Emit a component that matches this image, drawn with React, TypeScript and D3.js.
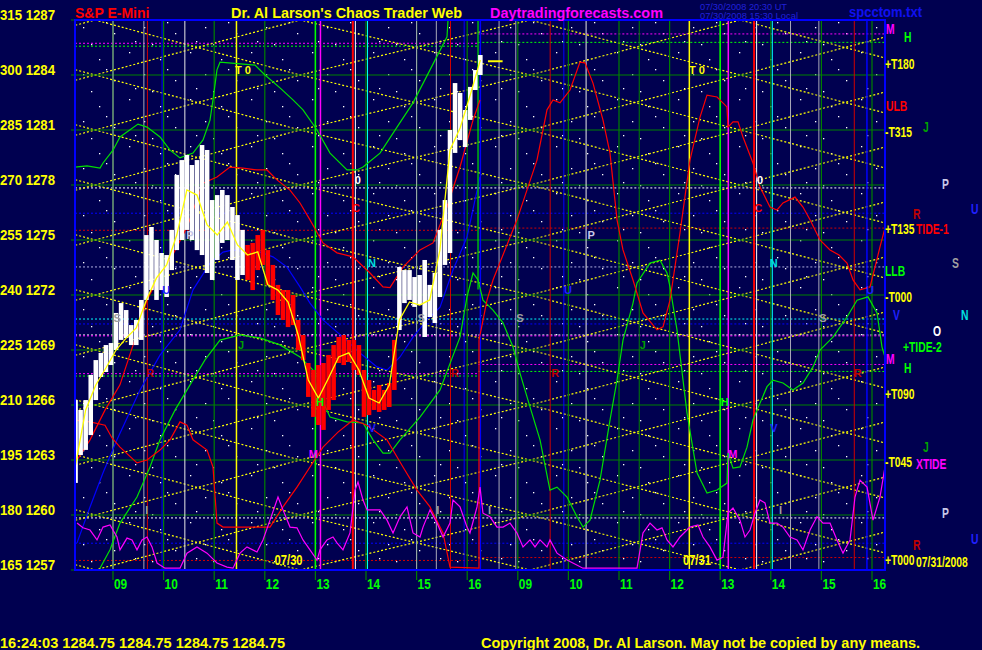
import React from "react";
import * as d3 from "d3";

// ---- axis data ----
const priceTicks = [1257, 1260, 1263, 1266, 1269, 1272, 1275, 1278, 1281, 1284, 1287];
const cycleTicks = [165, 180, 195, 210, 225, 240, 255, 270, 285, 300, 315];
const hourLabels = ["09", "10", "11", "12", "13", "14", "15", "16", "09", "10", "11", "12", "13", "14", "15", "16"];
const firstHour = 9; // chart time: day 1 clock hour, day 2 = clock hour + 8
const dayBreak = 16.22;

// ---- price bars (6 min) ----
const barStart = 8.26;
const barStep = 0.1;
const barHigh = [
  1266.27, 1265.73, 1266.27, 1267.64, 1268.45, 1268.84, 1269.27, 1269.38, 1271.02, 1271.56,
  1271.18, 1270.36, 1270.64, 1271.73, 1275.27, 1275.71, 1275.0, 1274.29, 1274.18, 1275.55,
  1278.55, 1279.36, 1279.64, 1279.09, 1279.36, 1280.18, 1279.91, 1277.18, 1277.45, 1277.73,
  1277.45, 1276.8, 1276.36, 1275.55, 1274.73, 1274.84, 1275.27, 1275.55, 1274.45, 1273.64,
  1272.55, 1272.27, 1272.27, 1272.0, 1270.64, 1269.82, 1268.29, 1267.91, 1268.18, 1268.29,
  1268.73, 1269.27, 1269.71, 1269.82, 1269.55, 1269.55, 1269.27, 1267.91, 1267.36, 1266.82,
  1267.09, 1266.82, 1267.2, 1269.55, 1273.53, 1273.36, 1273.36, 1272.98, 1273.09, 1273.91,
  1272.55, 1273.2, 1275.55, 1277.18, 1281.0, 1283.56, 1283.02, 1282.09, 1283.35, 1284.27,
  1285.09,
];
const barLow = [
  1261.75, 1263.27, 1263.55, 1264.36, 1266.27, 1267.53, 1267.8, 1268.18, 1269.0, 1269.55,
  1269.65, 1269.27, 1269.27, 1269.55, 1271.73, 1272.27, 1271.73, 1272.27, 1271.89, 1273.36,
  1274.45, 1275.0, 1275.55, 1275.0, 1274.45, 1274.18, 1273.2, 1272.82, 1273.91, 1274.84,
  1275.0, 1273.91, 1272.82, 1273.09, 1272.82, 1272.27, 1273.36, 1273.64, 1272.55, 1271.73,
  1270.91, 1270.64, 1270.25, 1270.36, 1269.0, 1268.45, 1266.44, 1265.35, 1264.91, 1264.64,
  1265.73, 1266.27, 1268.29, 1268.18, 1268.35, 1267.91, 1267.64, 1265.35, 1265.45, 1265.73,
  1265.62, 1265.73, 1265.89, 1266.82, 1270.09, 1271.56, 1271.73, 1271.35, 1271.45, 1269.71,
  1270.8, 1270.47, 1271.89, 1273.64, 1274.29, 1279.75, 1280.45, 1280.07, 1281.55, 1283.18,
  1284.0,
];
const redZone = [11.65, 14.6];
const lastPrice = 1284.75;

// ---- moving average (12 min) ----
const maStart = 8.26;
const maStep = 0.2;
const maValues = [
  1262.73, 1265.73, 1267.09, 1268.02, 1269.0, 1269.65, 1270.2, 1271.73, 1272.93, 1273.64,
  1275.27, 1277.73, 1277.45, 1275.82, 1275.27, 1275.98, 1274.73, 1274.18, 1274.35, 1272.55,
  1272.27, 1271.62, 1269.82, 1267.36, 1266.38, 1267.47, 1268.62, 1268.84, 1267.91, 1266.38,
  1266.11, 1267.09, 1270.64, 1271.62, 1271.45, 1271.73, 1274.45, 1279.91, 1281.11, 1282.91,
  1284.82,
];

// ---- cycle curves [chart time, cycle scale] ----
const redForecast: [number, number][] = [
  [8.289, 195.0], [8.546, 200.5], [8.842, 208.6], [9.138, 215.5], [9.474, 229.6], [9.672, 238.6],
  [9.929, 245.5], [10.127, 249.5], [10.462, 258.5], [10.779, 270.5], [11.055, 272.2], [11.312, 274.9],
  [11.569, 274.6], [11.846, 274.1], [12.043, 274.1], [12.241, 271.4], [12.498, 268.6], [12.696, 265.1],
  [12.893, 260.5], [13.15, 254.2], [13.427, 251.5], [13.743, 250.4], [14.079, 246.0], [14.336, 242.2],
  [14.474, 242.0], [14.731, 247.6], [15.067, 252.3], [15.324, 254.2], [15.601, 264.0], [15.858, 274.9],
  [16.115, 287.7], [16.253, 293.2],
];
const redCycle: [number, number][] = [
  [8.249, 205.9], [8.546, 205.4], [8.842, 204.5], [8.981, 201.0], [9.138, 198.5], [9.474, 194.2],
  [9.672, 195.0], [9.929, 197.7], [10.127, 200.5], [10.324, 205.4], [10.462, 204.5], [10.581, 200.5],
  [10.858, 197.7], [10.976, 193.1], [11.055, 177.8], [11.174, 176.7], [12.103, 176.7], [12.36, 182.2],
  [12.636, 187.6], [12.893, 193.1], [13.15, 198.5], [13.447, 202.6], [13.743, 205.9], [14.02, 204.5],
  [14.415, 200.5], [14.731, 193.1], [15.008, 186.8], [15.265, 182.2], [15.522, 175.1], [15.66, 165.8],
  [16.233, 165.5], [16.233, 227.7], [16.392, 238.6], [16.51, 244.1], [16.984, 260.5], [17.379, 276.8],
  [17.577, 290.5], [17.696, 293.2], [17.834, 292.4], [18.032, 295.9], [18.229, 303.5], [18.328, 303.3],
  [18.486, 297.8], [18.684, 287.7], [18.822, 278.7], [18.961, 260.5], [19.079, 252.3], [19.277, 244.1],
  [19.474, 235.1], [19.751, 230.5], [19.87, 231.3], [20.008, 238.6], [20.067, 244.1], [20.205, 256.9],
  [20.403, 276.8], [20.601, 288.5], [20.739, 294.5], [20.937, 294.0], [21.134, 291.3], [21.154, 285.8],
  [21.253, 287.2], [21.352, 287.2], [21.45, 283.1], [21.648, 276.0], [21.786, 269.5], [21.984, 264.0],
  [22.123, 263.2], [22.241, 265.1], [22.478, 266.7], [22.636, 264.0], [22.775, 260.5], [22.972, 255.0],
  [23.17, 252.3], [23.348, 250.9], [23.506, 248.7], [23.625, 244.1], [23.763, 241.4], [23.961, 242.2],
  [24.158, 253.1], [24.257, 258.3],
];
const greenUpper: [number, number][] = [
  [8.249, 274.9], [8.486, 275.2], [8.743, 274.6], [8.803, 276.0], [9.0, 279.5], [9.138, 283.1],
  [9.494, 286.6], [9.672, 285.8], [9.929, 283.1], [10.127, 279.5], [10.324, 277.4], [10.581, 278.7],
  [10.779, 282.3], [10.917, 287.7], [10.976, 293.2], [11.055, 301.4], [11.115, 303.5], [11.806, 302.7],
  [12.004, 300.0], [12.3, 296.5], [12.557, 293.2], [12.755, 290.5], [13.032, 285.0], [13.289, 278.7],
  [13.625, 274.1], [13.822, 274.1], [13.941, 274.9], [14.277, 278.7], [14.613, 285.8], [14.929, 292.4],
  [15.265, 301.4], [15.601, 310.4], [15.621, 315.0], [16.214, 315.0], [16.214, 241.5],
];
const greenCycle: [number, number][] = [
  [8.743, 165.5], [8.941, 170.5], [9.138, 177.8], [9.474, 184.9], [9.731, 193.1], [9.929, 200.5],
  [10.225, 208.6], [10.522, 215.5], [10.818, 222.3], [11.115, 227.7], [11.51, 229.1], [11.905, 228.3],
  [12.3, 226.4], [12.696, 223.1], [12.953, 219.5], [13.032, 214.1], [13.131, 211.4], [13.289, 206.7],
  [13.625, 205.4], [13.941, 205.1], [14.138, 200.5], [14.336, 196.9], [14.474, 196.9], [14.672, 200.5],
  [15.067, 206.7], [15.463, 214.1], [15.858, 228.5], [15.996, 239.5], [16.115, 246.0], [16.214, 244.1],
  [16.312, 238.6], [16.51, 235.9], [16.708, 232.4], [16.905, 225.8], [17.043, 218.7], [17.241, 209.5],
  [17.439, 200.5], [17.636, 186.8], [17.775, 187.6], [17.973, 184.9], [18.17, 179.5], [18.289, 176.7],
  [18.427, 178.6], [18.625, 189.5], [18.822, 205.9], [18.961, 216.8], [19.079, 227.7], [19.277, 237.8],
  [19.356, 243.3], [19.613, 248.7], [19.81, 249.5], [19.949, 246.0], [20.008, 242.2], [20.146, 230.5],
  [20.344, 207.8], [20.541, 191.5], [20.739, 186.0], [20.937, 186.8], [21.134, 188.7], [21.154, 196.9],
  [21.253, 192.8], [21.391, 193.1], [21.53, 198.5], [21.648, 205.9], [21.727, 208.6], [21.925, 215.0],
  [22.044, 216.8], [22.241, 216.0], [22.439, 214.1], [22.636, 216.0], [22.834, 220.4], [22.972, 225.0],
  [23.229, 228.5], [23.506, 234.0], [23.704, 238.6], [23.921, 239.5], [24.099, 235.1], [24.198, 225.8],
  [24.257, 223.1],
];
const blueCycle: [number, number][] = [
  [8.289, 172.4], [8.546, 182.2], [8.803, 191.5], [9.079, 200.5], [9.534, 214.1], [9.929, 223.6],
  [10.324, 230.5], [10.581, 241.4], [10.917, 248.7], [11.174, 251.7], [11.372, 252.3], [11.648, 251.7],
  [11.905, 251.7], [12.162, 250.4], [12.439, 247.6], [12.696, 242.2], [12.893, 237.8], [13.15, 233.2],
  [13.545, 228.5], [13.882, 224.2], [14.217, 220.4], [14.415, 219.5], [14.672, 223.1], [14.929, 228.5],
  [15.206, 233.2], [15.463, 236.7], [15.719, 246.8], [15.996, 255.8], [16.253, 272.2],
];
const magentaOsc: [number, number][] = [
  [8.289, 177.8], [8.407, 176.5], [8.546, 175.9], [8.684, 173.2], [8.803, 176.7], [8.941, 177.3],
  [9.079, 174.0], [9.138, 170.5], [9.277, 173.7], [9.376, 173.2], [9.474, 170.5], [9.573, 173.2],
  [9.672, 174.0], [9.771, 171.3], [9.87, 166.9], [10.028, 165.5], [10.324, 165.5], [10.462, 169.6],
  [10.66, 171.3], [10.858, 169.6], [11.055, 166.9], [11.253, 165.8], [11.372, 165.5], [11.51, 169.6],
  [11.648, 171.3], [11.846, 169.9], [11.964, 173.2], [12.103, 178.6], [12.261, 184.9], [12.36, 181.4],
  [12.498, 176.7], [12.636, 176.5], [12.755, 173.2], [12.893, 170.5], [13.032, 167.7], [13.091, 170.5],
  [13.229, 173.2], [13.348, 174.0], [13.427, 172.4], [13.545, 170.5], [13.684, 175.1], [13.783, 186.8],
  [13.842, 189.0], [13.941, 184.1], [14.02, 181.4], [14.277, 181.4], [14.415, 178.6], [14.534, 175.1],
  [14.672, 179.5], [14.81, 182.2], [14.929, 175.1], [15.067, 174.0], [15.127, 176.7], [15.265, 181.4],
  [15.403, 177.8], [15.522, 174.0], [15.66, 177.8], [15.719, 184.1], [15.858, 182.2], [15.996, 176.7],
  [16.055, 175.1], [16.194, 182.2], [16.253, 187.6], [16.312, 180.5], [16.451, 179.5], [16.589, 176.7],
  [16.708, 176.7], [16.846, 177.8], [16.984, 175.1], [17.103, 171.3], [17.241, 173.2], [17.34, 171.3],
  [17.439, 173.2], [17.577, 171.3], [17.636, 173.2], [17.775, 169.6], [17.973, 167.7], [18.289, 165.5],
  [19.356, 165.5], [19.474, 175.1], [19.613, 177.8], [19.751, 175.9], [19.85, 176.5], [19.949, 173.2],
  [20.067, 171.3], [20.205, 174.0], [20.403, 176.7], [20.561, 177.3], [20.66, 174.0], [20.798, 171.3],
  [20.937, 167.7], [21.055, 168.5], [21.154, 180.5], [21.253, 181.9], [21.391, 178.6], [21.49, 174.0],
  [21.589, 175.9], [21.688, 180.5], [21.786, 184.1], [21.885, 183.3], [21.984, 177.8], [22.123, 177.8],
  [22.241, 176.7], [22.379, 174.0], [22.518, 173.2], [22.636, 170.5], [22.775, 175.9], [22.913, 179.5],
  [23.032, 177.8], [23.17, 177.8], [23.308, 173.2], [23.427, 169.6], [23.566, 173.2], [23.664, 184.9],
  [23.763, 189.5], [23.902, 187.6], [24.02, 178.6], [24.158, 184.9], [24.257, 193.1],
];

// ---- field lines: lattice turning times ----
const latticeVertices = [4.59, 8.644, 12.696, 17.241, 21.391, 25.54];

// ---- horizontal levels: [day1 price, day2 price, colour] ----
const levelLines: [number, number, string][] = [
  [1285.73, 1286.24, "#ff00ff"],
  [1285.57, 1285.78, "#00ff00"],
  [1277.84, 1277.84, "#ffffff"],
  [1276.46, 1276.46, "#0000ff"],
  [1275.53, 1275.65, "#d00000"],
  [1273.53, 1273.53, "#b0b0e0"],
  [1270.69, 1270.69, "#00ffff"],
  [1270.42, 1270.42, "#0000ff"],
  [1269.82, 1269.82, "#ffffff"],
  [1269.77, 1269.77, "#ff00ff"],
  [1267.71, 1268.21, "#ff00ff"],
  [1267.58, 1267.83, "#00ff00"],
  [1259.84, 1259.84, "#ffffff"],
  [1258.46, 1258.46, "#0000ff"],
  [1257.52, 1257.68, "#d00000"],
];

// ---- vertical event lines: [time, colour, width] ----
const eventLines: [number, string, number][] = [
  [9.0, "#a8a8b8", 1], [9.61, "#a8a8b8", 1], [9.68, "#d00000", 1], [9.97, "#0000ff", 1],
  [10.42, "#e8e8e8", 1], [11.44, "#ffff00", 1.5], [13.0, "#00ff00", 1.5], [13.1, "#ff00ff", 1.5],
  [13.74, "#ff0000", 2], [13.79, "#ffffff", 1], [14.03, "#00ffff", 1], [15.0, "#a8a8b8", 1],
  [15.39, "#a8a8b8", 1], [15.67, "#d00000", 1], [15.94, "#0000ff", 1], [16.26, "#0000ff", 1.5],
  [16.63, "#a8a8b8", 1], [16.96, "#a8a8b8", 1], [17.64, "#d00000", 1], [17.91, "#0000ff", 1],
  [18.35, "#e8e8e8", 1], [19.4, "#008000", 1], [20.39, "#ffff00", 1.5], [21.0, "#00ff00", 1.5],
  [21.16, "#ff00ff", 1.5], [21.67, "#ff0000", 2], [21.72, "#ffffff", 1], [22.03, "#00ffff", 1],
  [22.39, "#a8a8b8", 1], [22.95, "#a8a8b8", 1], [23.65, "#d00000", 1], [23.9, "#0000ff", 1.5],
];

// ---- letters inside the plot: [time, price, text, colour] ----
const plotLetters: [number, number, string, string][] = [
  [11.57, 1284.27, "T 0", "#ffff00"], [20.54, 1284.27, "T 0", "#ffff00"],
  [13.84, 1278.27, "0", "#ffffff"], [21.79, 1278.27, "0", "#ffffff"],
  [13.8, 1276.75, "C", "#ff0000"], [21.75, 1276.75, "C", "#ff0000"],
  [10.52, 1275.27, "P", "#c8c8e8"], [18.45, 1275.27, "P", "#c8c8e8"],
  [14.12, 1273.75, "N", "#00e0e0"], [22.06, 1273.75, "N", "#00e0e0"],
  [10.05, 1272.27, "U", "#2020ff"], [17.99, 1272.27, "U", "#2020ff"], [23.96, 1272.27, "U", "#2020ff"],
  [9.08, 1270.75, "S", "#a0a0a0"], [15.09, 1270.75, "S", "#a0a0a0"], [17.04, 1270.75, "S", "#a0a0a0"], [23.03, 1270.75, "S", "#a0a0a0"],
  [11.53, 1269.27, "J", "#00a000"], [19.47, 1269.27, "J", "#00a000"],
  [9.73, 1267.75, "R", "#c00000"], [15.76, 1267.75, "R", "#c00000"], [17.74, 1267.75, "R", "#c00000"], [23.72, 1267.75, "R", "#c00000"],
  [13.09, 1266.16, "H", "#00ff00"], [21.09, 1266.16, "H", "#00ff00"],
  [14.12, 1264.75, "V", "#2020ff"], [22.06, 1264.75, "V", "#2020ff"],
  [12.96, 1263.33, "M", "#ff00ff"], [21.25, 1263.33, "M", "#ff00ff"],
  [9.67, 1260.27, "I", "#a0a0a0"], [15.42, 1260.27, "I", "#a0a0a0"], [16.44, 1260.27, "I", "#a0a0a0"], [22.19, 1260.27, "I", "#a0a0a0"],
];
const dateLabels: [number, string][] = [[12.47, "07/30"], [20.54, "07/31"]];

// ---- labels right of the plot: [price, text, colour, column] ----
const sideLabels: [number, string, string, number][] = [
  [1286.51, "M", "#ff00ff", 886], [1286.07, "H", "#00ff00", 904],
  [1284.6, "+T180", "#ffff00", 885], [1282.31, "ULB", "#ff0000", 886],
  [1280.89, "-T315", "#ffff00", 885], [1281.16, "J", "#00a000", 923],
  [1278.05, "P", "#c8c8e8", 942], [1276.69, "U", "#2020ff", 971],
  [1275.6, "+T135", "#ffff00", 885], [1275.6, "TIDE-1", "#ff0000", 916],
  [1276.42, "R", "#c00000", 913], [1273.75, "S", "#a0a0a0", 952],
  [1273.31, "LLB", "#00ff00", 885], [1271.89, "-T000", "#ffff00", 885],
  [1270.91, "V", "#2020ff", 893], [1270.91, "N", "#00e0e0", 961],
  [1270.04, "O", "#ffffff", 933], [1269.16, "+TIDE-2", "#00ff00", 903],
  [1268.51, "M", "#ff00ff", 886], [1268.02, "H", "#00ff00", 904],
  [1266.6, "+T090", "#ffff00", 885], [1262.89, "-T045", "#ffff00", 885],
  [1263.7, "J", "#00a000", 923], [1262.79, "XTIDE", "#ff00ff", 916],
  [1260.11, "P", "#c8c8e8", 942], [1258.69, "U", "#2020ff", 971],
  [1258.35, "R", "#c00000", 913], [1257.55, "+T000", "#ffff00", 885],
  [1257.45, "07/31/2008", "#ffff00", 916],
];

const sans = "'Liberation Sans', Arial, sans-serif";

export default function App() {
  const W = 982;
  const H = 650;
  const x = d3.scaleLinear().domain([8.249, 24.257]).range([75, 885]);
  const yP = d3.scaleLinear().domain([1257, 1287]).range([570, 20]);
  const yC = d3.scaleLinear().domain([165, 315]).range([570, 20]);

  const cycleLine = d3
    .line<[number, number]>()
    .x((d) => x(d[0]))
    .y((d) => yC(d[1]));
  const priceLine = d3
    .line<[number, number]>()
    .x((d) => x(d[0]))
    .y((d) => yP(d[1]));

  const bars = barHigh.map((h, i) => ({ t: barStart + i * barStep, h, l: barLow[i] }));
  const ma: [number, number][] = maValues.map((v, i) => [maStart + i * maStep, v]);
  const barW = (x(barStep) - x(0)) * 0.9;

  // field-line lattice: each band zig-zags between neighbouring grid levels
  const lattice: [number, number][][] = [];
  for (let k = 0; k < priceTicks.length - 1; k++) {
    const lo = priceTicks[k];
    const hi = priceTicks[k + 1];
    lattice.push(latticeVertices.map((t, i) => [t, i % 2 === 0 ? lo : hi]));
    lattice.push(latticeVertices.map((t, i) => [t, i % 2 === 0 ? hi : lo]));
  }

  const hours = hourLabels.map((lab, i) => ({ lab, t: firstHour + i }));
  const x0 = x(8.249);
  const x1 = x(24.257);
  const xb = x(dayBreak);

  return (
    <div style={{ position: "fixed", left: 0, top: 0, width: W, height: H, background: "#000050" }}>
      <svg width={W} height={H} style={{ display: "block" }}>
        <defs>
          <clipPath id="plot">
            <rect x={75} y={20} width={810} height={550} />
          </clipPath>
          <pattern id="stars" width="61" height="47" patternUnits="userSpaceOnUse">
            <rect x="7" y="5" width="1.3" height="1.3" fill="#fff" />
            <rect x="38" y="12" width="1.3" height="1.3" fill="#fff" />
            <rect x="22" y="27" width="1.3" height="1.3" fill="#fff" />
            <rect x="53" y="33" width="1.3" height="1.3" fill="#fff" />
            <rect x="13" y="41" width="1.3" height="1.3" fill="#fff" />
            <rect x="45" y="22" width="1.3" height="1.3" fill="#fff" />
            <rect x="30" y="44" width="1.3" height="1.3" fill="#fff" />
          </pattern>
        </defs>
        <rect width={W} height={H} fill="#000050" />

        <g clipPath="url(#plot)">
          <rect x={75} y={20} width={810} height={550} fill="url(#stars)" />

          {/* horizontal levels */}
          {levelLines.map(([p1, p2, c], i) => (
            <g key={"lv" + i} stroke={c} strokeWidth={1} strokeDasharray="2 2">
              <line x1={x0} x2={xb} y1={yP(p1)} y2={yP(p1)} />
              <line x1={xb} x2={x1} y1={yP(p2)} y2={yP(p2)} />
            </g>
          ))}

          {/* yellow field lattice */}
          {lattice.map((pts, i) => (
            <path key={"lt" + i} d={priceLine(pts) || ""} fill="none" stroke="#ffff00" strokeWidth={1.2} strokeDasharray="2 2" />
          ))}
        </g>

        {/* green price grid */}
        {priceTicks.map((p) => (
          <line key={"g" + p} x1={71} x2={885} y1={yP(p)} y2={yP(p)} stroke="#008000" strokeWidth={1.2} />
        ))}

        {/* hour lines */}
        {hours.map((h) => (
          <line key={"h" + h.t} x1={x(h.t)} x2={x(h.t)} y1={20} y2={580} stroke="#008000" strokeWidth={1.2} />
        ))}

        <g clipPath="url(#plot)">
          {eventLines.map(([t, c, w], i) => (
            <line key={"ev" + i} x1={x(t)} x2={x(t)} y1={20} y2={570} stroke={c} strokeWidth={w} />
          ))}

          <path d={cycleLine(blueCycle) || ""} fill="none" stroke="#0000ff" strokeWidth={1.2} />
          <path d={cycleLine(greenUpper) || ""} fill="none" stroke="#00e000" strokeWidth={1.2} />
          <path d={cycleLine(greenCycle) || ""} fill="none" stroke="#00e000" strokeWidth={1.2} />
          <path d={cycleLine(redForecast) || ""} fill="none" stroke="#ff0000" strokeWidth={1.2} />
          <path d={cycleLine(redCycle) || ""} fill="none" stroke="#ff0000" strokeWidth={1.2} />
          <path d={cycleLine(magentaOsc) || ""} fill="none" stroke="#ff00ff" strokeWidth={1.2} />

          {/* price bars */}
          {bars.map((b, i) => (
            <rect
              key={"b" + i}
              x={x(b.t) - barW / 2}
              y={yP(b.h)}
              width={barW}
              height={Math.max(1, yP(b.l) - yP(b.h))}
              fill={b.t >= redZone[0] && b.t <= redZone[1] ? "#ff0000" : "#ffffff"}
            />
          ))}
          <path d={priceLine(ma) || ""} fill="none" stroke="#ffff00" strokeWidth={1.3} />
          <line x1={x(16.41)} x2={x(16.7)} y1={yP(lastPrice)} y2={yP(lastPrice)} stroke="#ffff00" strokeWidth={2} />

          {plotLetters.map(([t, p, s, c], i) => (
            <text key={"pl" + i} x={x(t)} y={yP(p)} dy="0.35em" textAnchor="middle" fill={c}
              fontFamily={sans} fontWeight="bold" fontSize={11}>{s}</text>
          ))}
          {dateLabels.map(([t, s]) => (
            <text key={"d" + s} transform={`translate(${x(t)},${yP(1257.55)}) scale(0.8,1)`} dy="0.35em" textAnchor="middle" fill="#ffff00"
              fontFamily={sans} fontWeight="bold" fontSize={14}>{s}</text>
          ))}
        </g>

        {/* plot frame */}
        <rect x={75} y={20} width={810} height={550} fill="none" stroke="#0000ff" strokeWidth={2} />

        {/* left axis: cycle scale and price */}
        {priceTicks.map((p, i) => (
          <text key={"yl" + p} x={0} y={yP(p)} fill="#ffff00" fontFamily={sans} fontWeight="bold" fontSize={14}
            textLength={55} lengthAdjust="spacingAndGlyphs">{`${cycleTicks[i]} ${p}`}</text>
        ))}

        {/* hour labels */}
        {hours.map((h) => (
          <text key={"hl" + h.t} transform={`translate(${x(h.t) + 1},589) scale(0.85,1)`} fill="#00ff00" fontFamily={sans} fontWeight="bold" fontSize={14}>{h.lab}</text>
        ))}

        {/* side labels */}
        {sideLabels.map(([p, s, c, col], i) => (
          <text key={"sl" + i} transform={`translate(${col},${yP(p)}) scale(0.74,1)`} dy="0.35em" fill={c}
            fontFamily={sans} fontWeight="bold" fontSize={14}>{s}</text>
        ))}

        {/* header */}
        <text x={75} y={17.5} fill="#ff0000" fontFamily={sans} fontWeight="bold" fontSize={14}>S&amp;P E-Mini</text>
        <text x={231} y={17.5} fill="#ffff00" fontFamily={sans} fontWeight="bold" fontSize={14} textLength={231} lengthAdjust="spacingAndGlyphs">Dr. Al Larson's Chaos Trader Web</text>
        <text x={490} y={17.5} fill="#ff00ff" fontFamily={sans} fontWeight="bold" fontSize={14} textLength={173} lengthAdjust="spacingAndGlyphs">Daytradingforecasts.com</text>
        <text x={700} y={9.5} fill="#2020d8" fontFamily={sans} fontSize={9} textLength={87} lengthAdjust="spacingAndGlyphs">07/30/2008 20:30 UT</text>
        <text x={700} y={19} fill="#2020d8" fontFamily={sans} fontSize={9} textLength={98} lengthAdjust="spacingAndGlyphs">07/30/2008 15:30 Local</text>
        <text x={849} y={16.5} fill="#1010f0" fontFamily={sans} fontWeight="bold" fontSize={14} textLength={73} lengthAdjust="spacingAndGlyphs">spcctom.txt</text>

        {/* footer */}
        <text x={0} y={648} fill="#ffff00" fontFamily={sans} fontWeight="bold" fontSize={14} textLength={285} lengthAdjust="spacingAndGlyphs">16:24:03  1284.75 1284.75 1284.75 1284.75</text>
        <text x={481} y={648} fill="#ffff00" fontFamily={sans} fontWeight="bold" fontSize={14} textLength={439} lengthAdjust="spacingAndGlyphs">Copyright 2008, Dr. Al Larson. May not be copied by any means.</text>
      </svg>
    </div>
  );
}
